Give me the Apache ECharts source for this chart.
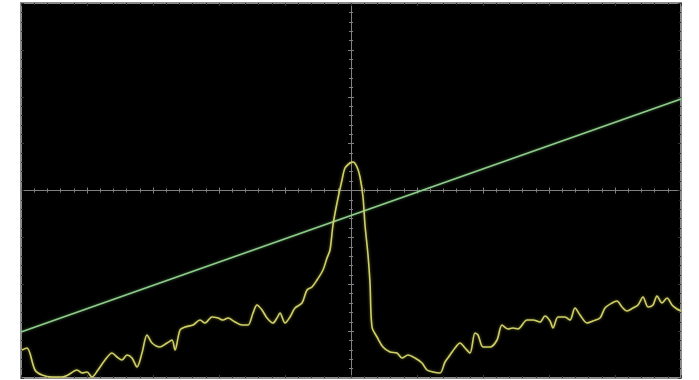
<!DOCTYPE html>
<html>
<head>
<meta charset="utf-8">
<script src="https://cdn.jsdelivr.net/npm/echarts@6/dist/echarts.min.js"></script>
<style>
html,body{margin:0;padding:0;background:#fff;}
#chart{width:699px;height:380px;}
</style>
</head>
<body>
<div id="chart"></div>
<script>
// Spectrum trace (yellow): frequency bin (0..660) and level (0..375)
const traceBins = [1,6,14,21,31,41,47,56,61,66,71,77,84,91,96,101,106,111,116,121,126,131,139,146,151,154,159,164,172,179,184,191,197,202,207,214,221,227,232,236,241,246,252,256,259,264,269,274,281,286,291,296,302,306,309,312,316,321,324,329,332,336,339,342,344,347,349,351,356,362,369,376,381,387,394,401,406,412,419,424,429,434,439,444,449,454,457,462,469,476,481,487,492,497,506,512,519,524,529,532,537,544,549,554,559,566,572,579,584,591,596,601,606,612,617,622,627,632,636,641,646,651,656,660];
const traceLevels = [28,30,8,3,1,1,3,8,5,6,1,8,18,25,21,18,23,20,11,25,43,35,31,35,38,28,48,51,53,58,55,61,60,58,60,56,53,53,65,73,68,60,55,60,65,55,61,70,75,88,91,98,108,120,128,153,175,198,210,215,216,211,201,181,153,123,95,51,41,31,26,25,20,23,20,15,8,6,5,16,23,30,35,30,25,45,43,31,31,38,53,49,50,49,58,58,56,62,57,50,61,61,58,70,63,55,57,60,70,75,77,71,67,70,73,81,71,73,82,75,80,73,69,67];
// Ramp trace (green): start and end points
const rampBins = [0, 660];
const rampLevels = [46, 279];

const tracePts = traceBins.map((b, i) => [b, traceLevels[i]]);
const rampPts = rampBins.map((b, i) => [b, rampLevels[i]]);

const chart = echarts.init(document.getElementById('chart'), null, {renderer: 'canvas'});
const frameColor = '#8a8a8a';
const centerColor = '#808080';
const hidden = {show: false};

function centerX(inside) {
  return {
    type: 'value', gridIndex: 0, min: -330, max: 330, interval: 66,
    axisLine: {show: !inside, onZero: true, onZeroAxisIndex: 2, lineStyle: {color: centerColor, width: 1}},
    axisTick: {show: true, inside: inside, length: 3, lineStyle: {color: centerColor}},
    minorTick: {show: true, splitNumber: 5, length: 2, lineStyle: {color: centerColor}},
    axisLabel: hidden, splitLine: hidden
  };
}
function centerY(inside) {
  return {
    type: 'value', gridIndex: 0, min: -187.5, max: 187.5, interval: 46.875,
    axisLine: {show: !inside, onZero: true, onZeroAxisIndex: 2, lineStyle: {color: centerColor, width: 1}},
    axisTick: {show: true, inside: inside, length: 3, lineStyle: {color: centerColor}},
    minorTick: {show: true, splitNumber: 5, length: 2, lineStyle: {color: centerColor}},
    axisLabel: hidden, splitLine: hidden
  };
}
function frameAxis(pos, min, max, interval) {
  return {
    type: 'value', gridIndex: 0, position: pos, min: min, max: max, interval: interval,
    axisLine: {show: true, onZero: false, lineStyle: {color: frameColor, width: 2}},
    axisTick: {show: true, inside: true, length: 3, lineStyle: {color: '#3a3a3a'}},
    minorTick: {show: true, splitNumber: 5, length: 2, lineStyle: {color: '#2a2a2a'}},
    axisLabel: hidden, splitLine: hidden
  };
}

chart.setOption({
  backgroundColor: '#ffffff',
  animation: false,
  grid: {left: 21, right: 18, top: 3, bottom: 2, show: true, backgroundColor: '#000000', borderColor: frameColor, borderWidth: 2, containLabel: false},
  xAxis: [
    frameAxis('bottom', 0, 660, 66),
    frameAxis('top', 0, 660, 66),
    centerX(false),
    centerX(true)
  ],
  yAxis: [
    frameAxis('left', 0, 375, 46.875),
    frameAxis('right', 0, 375, 46.875),
    centerY(false),
    centerY(true)
  ],
  series: [
    {
      type: 'line', xAxisIndex: 0, yAxisIndex: 0, data: rampPts, showSymbol: false,
      lineStyle: {color: '#8ccb88', width: 1.8, shadowColor: 'rgba(140,210,140,0.5)', shadowBlur: 3},
      z: 3
    },
    {
      type: 'line', xAxisIndex: 0, yAxisIndex: 0, data: tracePts, showSymbol: false, smooth: 0.3,
      lineStyle: {color: '#cfcf66', width: 1.6, shadowColor: 'rgba(210,210,100,0.5)', shadowBlur: 3},
      z: 4
    }
  ]
});
</script>
</body>
</html>
